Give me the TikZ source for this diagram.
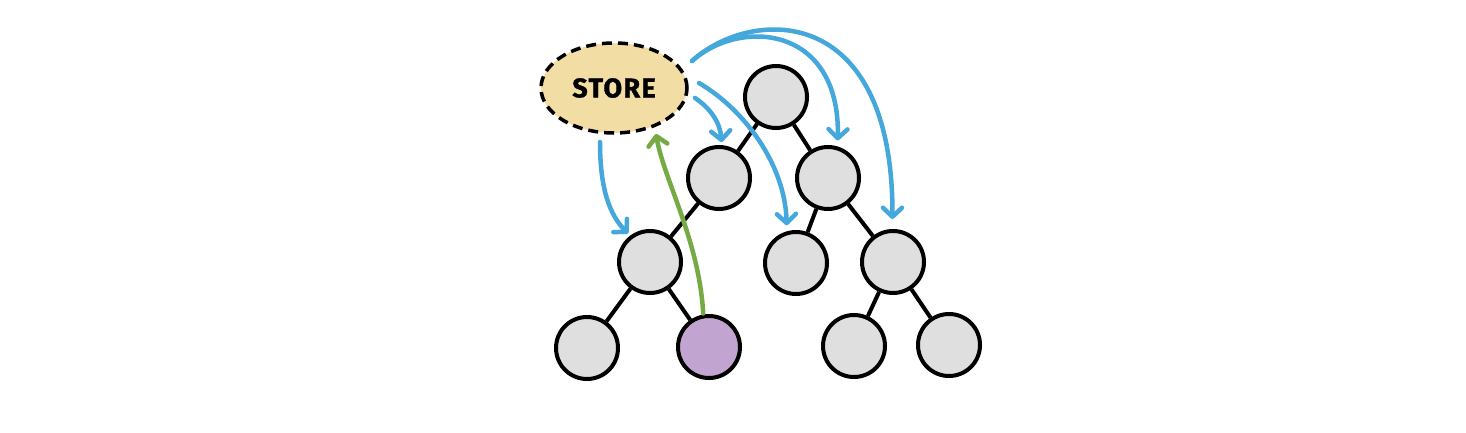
\documentclass[tikz,border=0pt]{standalone}
\usepackage{fontspec}
\setmainfont{Fira Sans}
\usetikzlibrary{arrows.meta,shapes.geometric}
\definecolor{nodegray}{HTML}{DFDFDF}
\definecolor{purp}{HTML}{C2A4D0}
\definecolor{storefill}{HTML}{F2DEA5}
\definecolor{bluearr}{HTML}{45A8DC}
\definecolor{greenarr}{HTML}{76AA44}
\tikzset{
  tnode/.style={circle, draw=black, line width=4pt, fill=nodegray, minimum size=62pt, inner sep=0pt},
  pnode/.style={tnode, fill=purp},
  storenode/.style={ellipse, draw=black, line width=3.5pt, dash pattern=on 10pt off 6pt, fill=storefill, minimum width=146pt, minimum height=90pt, inner sep=0pt, font=\fontsize{27}{27}\selectfont\bfseries\addfontfeatures{FakeBold=1.2,LetterSpace=5}},
  tedge/.style={line width=4pt, draw=black},
  barrow/.style={draw=bluearr, line width=4.5pt, line cap=round, -{Straight Barb[length=9pt,width=19pt,round]}},
  garrow/.style={draw=greenarr, line width=4.5pt, line cap=round, -{Straight Barb[length=9pt,width=19pt,round]}}
}
\begin{document}
\begin{tikzpicture}[x=1pt,y=-1pt]
\path[use as bounding box, fill=white] (0,0) rectangle (1466,433);
\node[storenode] (store) at (614,88) {STORE};
\node[tnode] (root) at (776,97) {};
\node[tnode] (L) at (719,178) {};
\node[tnode] (R) at (828,178) {};
\node[tnode] (LL) at (650,262) {};
\node[tnode] (RL) at (796,263) {};
\node[tnode] (RR) at (893,262) {};
\node[tnode] (LLL) at (587,348) {};
\node[pnode] (P) at (709,347) {};
\node[tnode] (RRL) at (854,346) {};
\node[tnode] (RRR) at (949,345) {};
\draw[tedge] (root) -- (L);
\draw[tedge] (root) -- (R);
\draw[tedge] (L) -- (LL);
\draw[tedge] (LL) -- (LLL);
\draw[tedge] (LL) -- (P);
\draw[tedge] (R) -- (RL);
\draw[tedge] (R) -- (RR);
\draw[tedge] (RR) -- (RRL);
\draw[tedge] (RR) -- (RRR);
\coordinate (s1) at (600,142);
\coordinate (s2) at (695,98);
\coordinate (s3) at (699,83);
\coordinate (s4) at (692,61);
\coordinate (g1) at (656,134);
\draw[barrow, shorten >=3pt] (s1) .. controls (600,190) and (610,215) .. (LL.127);
\draw[barrow, shorten >=3pt] (s2) .. controls (710,108) and (720,122) .. (L.85);
\draw[barrow, shorten >=6pt] (s3) .. controls (745,110) and (785,165) .. (RL.106);
\draw[barrow, shorten >=6pt] (s4) .. controls (740,18) and (840,25) .. (R.73);
\draw[barrow, shorten >=10pt] (s4) .. controls (750,8) and (893,0) .. (RR.91);
\draw[garrow, shorten <=1pt] (P.100) .. controls (699,240) and (664,180) .. (g1);
\end{tikzpicture}
\end{document}
